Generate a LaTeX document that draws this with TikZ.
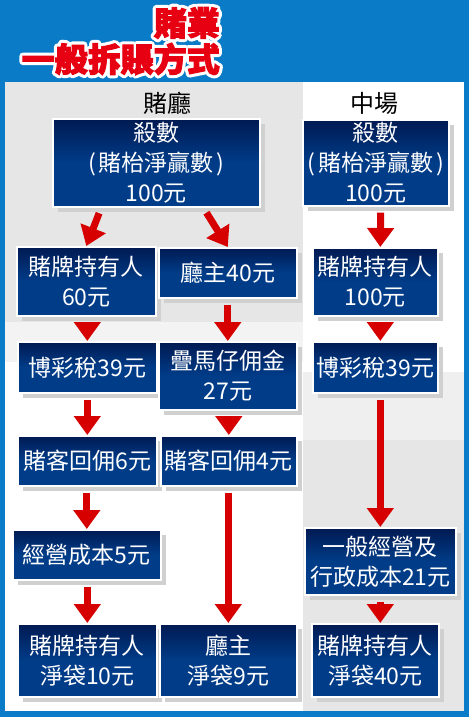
\documentclass[tikz,border=0pt]{standalone}
\usepackage{fontspec}
\newfontfamily\cjk{Noto Sans CJK TC}
\newfontfamily\cjkoutline{Noto Sans CJK TC}[FakeBold=22]
\newfontfamily\cjkheavy{Noto Sans CJK TC}[FakeBold=3]
\usetikzlibrary{arrows.meta,shadows,calc}
\definecolor{bluebg}{HTML}{0A7BC6}
\definecolor{arrred}{HTML}{D60000}
\definecolor{navy}{HTML}{003C88}
\definecolor{navytop}{HTML}{001A52}
\definecolor{shadowgray}{HTML}{D0D0D0}
\definecolor{panelgray}{HTML}{E6E6E6}
\definecolor{panellight}{HTML}{F3F3F3}
\definecolor{panelgrayB}{HTML}{E6E6E6}
\definecolor{panellightB}{HTML}{EFEFEF}
\definecolor{titlered}{HTML}{E60012}
\begin{document}
\begin{tikzpicture}[x=1pt,y=-1pt,
  box/.style={draw=white, line width=1.6pt, top color=navytop, bottom color=navy, middle color=navy,
    text=white, font=\cjk\fontsize{23}{30}\selectfont, align=center, anchor=north west, inner sep=0pt,
    drop shadow={shadow xshift=5pt, shadow yshift=-5pt, fill=shadowgray, opacity=1}},
  head/.style={font=\cjk\fontsize{24}{28}\selectfont, text=black, inner sep=0pt},
  ttl/.style={font=\cjkheavy\bfseries\fontsize{33}{36}\selectfont, inner sep=0pt, anchor=east},
  ttlo/.style={font=\cjkoutline\bfseries\fontsize{33}{36}\selectfont, inner sep=0pt, anchor=east, text=white, line join=round},
  arr/.style={draw=arrred, line width=7pt, -{Triangle[width=26pt,length=19pt]}, shorten <=6pt}]
\useasboundingbox (0,0) rectangle (469,717);
% background
\fill[bluebg] (0,0) rectangle (469,717);
\fill[panelgray] (5,82) rectangle (303,322);
\fill[panellight] (5,322) rectangle (303,362);
\fill[white] (5,362) rectangle (303,711);
\fill[white] (303,82) rectangle (464,372);
\fill[panellightB] (303,372) rectangle (464,440);
\fill[panelgrayB] (303,440) rectangle (464,711);
% title
\node[ttlo] (title1o) at (220,23) {\special{pdf:literal direct 1 j}賭業};
\node[ttlo] (title2o) at (220,59) {\special{pdf:literal direct 1 j}一般拆賬方式};
\node[ttl, text=titlered] (title1) at (220,23) {賭業};
\node[ttl, text=titlered] (title2) at (220,59) {一般拆賬方式};
% headers
\node[head] (hd1) at (167,103) {賭廳};
\node[head] (hd2) at (374,103) {中場};
% boxes
\node[box, minimum width=207pt, minimum height=88pt] (sa1) at (52,118) {殺數\\(\kern3pt賭枱淨贏數\kern3pt)\\100元};
\node[box, minimum width=146pt, minimum height=86pt] (sa2) at (302,119) {殺數\\(\kern3pt賭枱淨贏數\kern3pt)\\100元};
\node[box, minimum width=139pt, minimum height=69pt] (h1) at (16,246) {賭牌持有人\\60元};
\node[box, minimum width=138pt, minimum height=50pt] (t1) at (158,247) {廳主40元};
\node[box, minimum width=125pt, minimum height=68pt] (h2) at (312,247) {賭牌持有人\\100元};
\node[box, minimum width=139pt, minimum height=51pt] (tax1) at (17,341) {博彩稅39元};
\node[box, minimum width=138pt, minimum height=68pt] (dm) at (158,341) {疊馬仔佣金\\27元};
\node[box, minimum width=125pt, minimum height=51pt] (tax2) at (312,341) {博彩稅39元};
\node[box, minimum width=139pt, minimum height=50pt] (rb1) at (17,435) {賭客回佣6元};
\node[box, minimum width=136pt, minimum height=50pt] (rb2) at (160,435) {賭客回佣4元};
\node[box, minimum width=148pt, minimum height=50pt] (op1) at (12,529) {經營成本5元};
\node[box, minimum width=151pt, minimum height=67pt] (op2) at (304,527) {一般經營及\\行政成本21元};
\node[box, minimum width=139pt, minimum height=73pt] (n1) at (17,623) {賭牌持有人\\淨袋10元};
\node[box, minimum width=137pt, minimum height=73pt] (n2) at (159,623) {廳主\\淨袋9元};
\node[box, minimum width=127pt, minimum height=73pt] (n3) at (311,623) {賭牌持有人\\淨袋40元};
% arrows
\draw[arr] ($(sa1.south)+(-55,0)$) -- (h1.north);
\draw[arr] ($(sa1.south)+(47,0)$) -- (t1.north);
\draw[arr] ($(sa2.south)+(5,0)$) -- ($(h2.north)+(5,0)$);
\draw[arr] (tax1.north |- h1.south) -- (tax1.north);
\draw[arr] (dm.north |- t1.south) -- (dm.north);
\draw[arr] ($(tax2.north |- h2.south)+(5,0)$) -- ($(tax2.north)+(5,0)$);
\draw[arr] (rb1.north |- tax1.south) -- (rb1.north);
\draw[arr] (rb2.north |- dm.south) -- (rb2.north);
\draw[arr] ($(tax2.south)+(5,0)$) -- ($(tax2.south |- op2.north)+(5,0)$);
\draw[arr] (op1.north |- rb1.south) -- (op1.north);
\draw[arr] (n2.north |- rb2.south) -- (n2.north);
\draw[arr] (n1.north |- op1.south) -- (n1.north);
\draw[arr] (op2.south) -- (op2.south |- n3.north);
\end{tikzpicture}
\end{document}
